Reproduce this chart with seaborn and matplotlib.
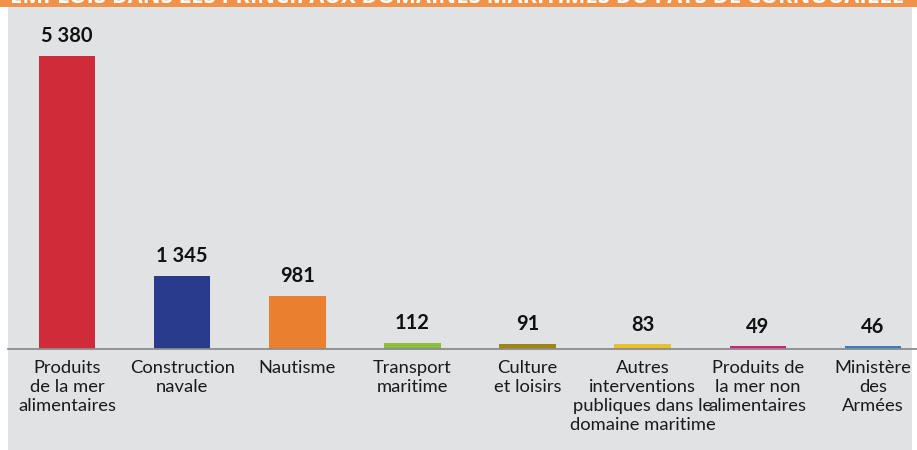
import matplotlib
matplotlib.use("Agg")
import matplotlib.pyplot as plt
import seaborn as sns
import pandas as pd
from matplotlib.patches import Rectangle

categories = ["Produits\nde la mer\nalimentaires", "Construction\nnavale", "Nautisme",
              "Transport\nmaritime", "Culture\net loisirs",
              "Autres\ninterventions\npubliques dans le\ndomaine maritime",
              "Produits de\nla mer non\nalimentaires", "Ministère\ndes\nArmées"]
values = [5380, 1345, 981, 112, 91, 83, 49, 46]
value_labels = ["5 380", "1 345", "981", "112", "91", "83", "49", "46"]
colors = ["#CF2B38", "#283B8C", "#EA802E", "#8DBF3F", "#A08512", "#E9C02E", "#D11F7B", "#3A7CC0"]
title = "EMPLOIS DANS LES PRINCIPAUX DOMAINES MARITIMES DU PAYS DE CORNOUAILLE"

sns.set_theme(style="white")
plt.rcParams['font.family'] = ['Lato', 'DejaVu Sans']

W, H = 917, 450
fig = plt.figure(figsize=(W / 100, H / 100), dpi=100)
fig.patch.set_facecolor("white")

# gray panel and orange title band
fig.add_artist(Rectangle((8 / W, 0), (912 - 8) / W, (H - 7) / H, transform=fig.transFigure,
                         facecolor="#E1E2E4", edgecolor="none", zorder=0))
fig.add_artist(Rectangle((0, (H - 7) / H), 1, 7 / H, transform=fig.transFigure,
                         facecolor="#F0924A", edgecolor="none", zorder=0))
fig.text(10 / W, (H + 3) / H, title, color="white", fontsize=15.8, fontweight="bold",
         family=["Open Sans", "DejaVu Sans"], ha="left", va="center", zorder=1)

ax = fig.add_axes([8 / W, (H - 349) / H, (917 - 8) / W, (349 - 7) / H])
ax.set_facecolor("none")

df = pd.DataFrame({"cat": categories, "val": values})
sns.barplot(data=df, x="cat", y="val", hue="cat", palette=colors, legend=False,
            width=0.49, saturation=1, linewidth=0, ax=ax)

ax.set_ylim(0, 6280)
ax.set_xlim(-0.513, 7.383)
ax.set_xlabel("")
ax.set_ylabel("")
ax.set_yticks([])
for s in ["top", "left", "right"]:
    ax.spines[s].set_visible(False)
ax.spines["bottom"].set_color("#8C8C8C")
ax.spines["bottom"].set_linewidth(1.3)
ax.tick_params(axis="x", length=0, pad=8)
ax.set_xticks(range(len(categories)))
ax.set_xticklabels(categories, fontsize=13.2, color="#1a1a1a", linespacing=1.22)

for i, (v, lab) in enumerate(zip(values, value_labels)):
    ax.annotate(lab, (i, v), xytext=(0, 7), textcoords="offset points",
                ha="center", va="bottom", fontsize=14.5, fontweight="bold", color="#111111")

fig.savefig("out.png", dpi=100)
